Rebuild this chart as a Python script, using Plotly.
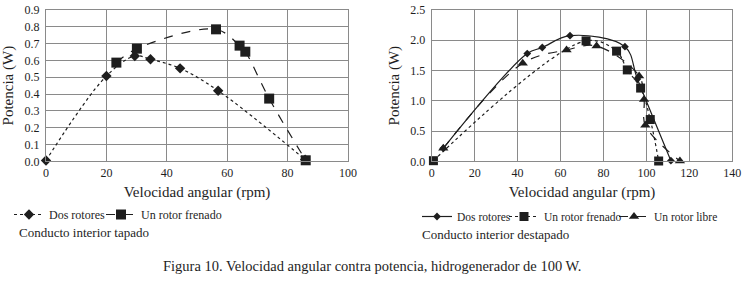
import plotly.graph_objects as go

# ---- Left chart: Conducto interior tapado ----
L_dos_x = [0, 20, 29.4, 34.6, 44.4, 57.0, 85.8]
L_dos_y = [0.005, 0.507, 0.626, 0.607, 0.553, 0.42, 0.01]
L_fren_x = [23.3, 30.1, 56.3, 64.1, 66.0, 73.9, 86.0]
L_fren_y = [0.587, 0.67, 0.785, 0.688, 0.652, 0.373, 0.006]

# ---- Right chart: Conducto interior destapado ----
R_dos_x = [5.4, 44.5, 51.5, 64.4, 90.0, 95.8, 111.4]
R_dos_y = [0.215, 1.78, 1.88, 2.076, 1.894, 1.36, 0.01]
R_fren_x = [0.8, 71.9, 86.1, 91.1, 97.3, 101.8, 105.7]
R_fren_y = [0.01, 1.99, 1.82, 1.51, 1.21, 0.69, 0.005]
R_libre_x = [5.4, 42.4, 62.8, 76.8, 96.6, 98.9, 99.5, 115.6]
R_libre_y = [0.215, 1.62, 1.84, 1.905, 1.41, 1.02, 0.595, 0.005]

L_xticks = [0, 20, 40, 60, 80, 100]
L_yticks = [0.0, 0.1, 0.2, 0.3, 0.4, 0.5, 0.6, 0.7, 0.8, 0.9]
R_xticks = [0, 20, 40, 60, 80, 100, 120, 140]
R_yticks = [0.0, 0.5, 1.0, 1.5, 2.0, 2.5]

INK = "#1e1e1e"
GRID = "#8a8a8a"
FONT = "Liberation Serif, Times New Roman, serif"

W, H = 745, 282


def px(X):
    return X / W


def py(Y):
    return 1 - Y / H


fig = go.Figure()


def add(x, y, name, dash, symbol, size, xa, ya, legend):
    fig.add_trace(go.Scatter(
        x=x, y=y, name=name, mode="lines+markers",
        line=dict(color=INK, width=1.2, dash=dash, shape="spline", smoothing=1.0),
        marker=dict(symbol=symbol, size=size, color=INK),
        xaxis=xa, yaxis=ya, legend=legend, cliponaxis=False))


add(L_dos_x, L_dos_y, "Dos rotores", "dot", "diamond", 8, "x", "y", "legend")
add(L_fren_x, L_fren_y, "Un rotor frenado", "dash", "square", 10, "x", "y", "legend2")
add(R_dos_x, R_dos_y, "Dos rotores", "solid", "diamond", 6, "x2", "y2", "legend3")
add(R_fren_x, R_fren_y, "Un rotor frenado", "dot", "square", 9, "x2", "y2", "legend4")
add(R_libre_x, R_libre_y, "Un rotor libre", "dash", "triangle-up", 9, "x2", "y2", "legend5")

axis_common = dict(showgrid=True, gridcolor=GRID, gridwidth=1, showline=True,
                   linecolor=GRID, linewidth=1, mirror=True, zeroline=False,
                   automargin=False, ticklabeloverflow="allow",
                   ticks="", tickfont=dict(family=FONT, size=12, color=INK))

title_font = dict(family=FONT, size=15, color=INK)
ydom = [py(161.3), py(10)]


def leg(xpix, ypix, size):
    return dict(orientation="h", x=px(xpix), y=py(ypix), xanchor="left", yanchor="top",
                font=dict(family=FONT, size=size, color=INK), itemwidth=30,
                bgcolor="rgba(0,0,0,0)", tracegroupgap=0)


fig.update_layout(
    width=W, height=H, margin=dict(l=0, r=0, t=0, b=0, autoexpand=False),
    paper_bgcolor="white", plot_bgcolor="white",
    font=dict(family=FONT, color=INK),
    xaxis=dict(domain=[px(46), px(348)], range=[0, 100], tickvals=L_xticks,
               title=dict(text="Velocidad angular (rpm)", font=title_font, standoff=7),
               anchor="y", **axis_common),
    yaxis=dict(domain=ydom, range=[0, 0.9], tickvals=L_yticks, tickformat=".1f",
               ticklabelstandoff=3,
               title=dict(text="Potencia (W)", font=title_font, standoff=7),
               anchor="x", **axis_common),
    xaxis2=dict(domain=[px(431.7), px(732.3)], range=[0, 140], tickvals=R_xticks,
                title=dict(text="Velocidad angular (rpm)", font=title_font, standoff=7),
                anchor="y2", **axis_common),
    yaxis2=dict(domain=ydom, range=[0, 2.5], tickvals=R_yticks, tickformat=".1f",
                ticklabelstandoff=3,
                title=dict(text="Potencia (W)", font=title_font, standoff=7),
                anchor="x2", **axis_common),
    legend=leg(9, 200, 12),
    legend2=leg(101, 200, 12),
    legend3=leg(417, 202, 11.5),
    legend4=leg(504, 202, 11.5),
    legend5=leg(614, 202, 11.5),
    showlegend=True,
)

fig.add_annotation(text="Conducto interior tapado", xref="paper", yref="paper",
                   x=px(17), y=py(232), xanchor="left", yanchor="middle",
                   showarrow=False, font=dict(family=FONT, size=13, color=INK))
fig.add_annotation(text="Conducto interior destapado", xref="paper", yref="paper",
                   x=px(420), y=py(234), xanchor="left", yanchor="middle",
                   showarrow=False, font=dict(family=FONT, size=13, color=INK))
fig.add_annotation(text="Figura 10. Velocidad angular contra potencia, hidrogenerador de 100 W.",
                   xref="paper", yref="paper", x=px(372), y=py(266),
                   xanchor="center", yanchor="middle", showarrow=False,
                   font=dict(family=FONT, size=14.5, color=INK))

fig.write_html("out.html", config={"displayModeBar": False},
               post_script="document.body.style.margin='0px';")
